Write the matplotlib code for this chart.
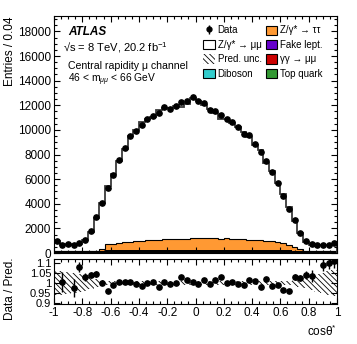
import numpy as np
import matplotlib
matplotlib.use("Agg")
import matplotlib.pyplot as plt
from matplotlib.patches import Patch
from matplotlib.ticker import MultipleLocator, FixedLocator, FixedFormatter

plt.rcParams["font.family"] = ["Liberation Sans", "DejaVu Sans"]
plt.rcParams["mathtext.fontset"] = "custom"
plt.rcParams["mathtext.rm"] = "Liberation Sans"
plt.rcParams["mathtext.it"] = "Liberation Sans:italic"
plt.rcParams["axes.unicode_minus"] = False
plt.rcParams["hatch.linewidth"] = 0.6

# 50 bins of width 0.04 in cos(theta*)
edges = np.round(np.arange(51) * 0.04 - 1.0, 2)
centers = 0.5 * (edges[1:] + edges[:-1])

data = [950, 680, 700, 620, 785, 1050, 1800, 2940, 4100, 5240,
        6370, 7530, 8500, 9530, 9880, 10420, 10850, 11100, 11400, 11850,
        11720, 11930, 12250, 12340, 12660, 12340, 12170, 11640, 11500, 11180,
        10850, 10640, 10230, 9700, 9560, 8890, 8210, 7450, 6560, 5650,
        4620, 3590, 2670, 1650, 970, 700, 680, 680, 680, 830]

zmumu = [760, 487, 510, 446, 537, 829, 1541, 2623, 3750, 4747,
         5674, 6673, 7588, 8563, 8990, 9600, 9820, 9995, 10563, 10691,
         10693, 10776, 10753, 10984, 11357, 11127, 10774, 10468, 10152, 9724,
         9670, 9467, 9111, 8698, 8320, 7735, 7358, 6324, 5706, 4816,
         3978, 3112, 2142, 1310, 731, 508, 510, 455, 448, 579]

ztautau = [50, 50, 50, 50, 50, 50, 50, 50, 190, 420,
           480, 540, 590, 640, 680, 720, 750, 770, 790, 820,
           830, 850, 860, 870, 960, 970, 960, 950, 920, 850,
           900, 840, 870, 840, 800, 770, 740, 700, 660, 600,
           520, 385, 260, 140, 60, 30, 30, 30, 30, 30]

fake = [50, 50, 50, 50, 50, 50, 50, 50, 60, 110,
        110, 110, 110, 110, 110, 110, 110, 110, 110, 110,
        110, 110, 110, 110, 110, 110, 110, 110, 110, 110,
        110, 110, 110, 110, 110, 110, 110, 110, 110, 110,
        110, 90, 70, 60, 50, 50, 50, 50, 50, 50]

gamgam = [20, 20, 20, 20, 20, 20, 20, 20, 30, 90,
          90, 90, 90, 90, 90, 90, 90, 90, 90, 90,
          90, 90, 90, 90, 90, 90, 90, 90, 90, 90,
          90, 90, 90, 90, 90, 90, 90, 90, 90, 90,
          90, 70, 50, 30, 20, 20, 20, 20, 20, 20]

diboson = [30, 30, 30, 30, 30, 30, 30, 30, 30, 40,
           40, 40, 40, 40, 40, 40, 40, 40, 40, 40,
           40, 40, 40, 40, 40, 40, 40, 40, 40, 40,
           40, 40, 40, 40, 40, 40, 40, 40, 40, 40,
           40, 35, 30, 30, 30, 30, 30, 30, 30, 30]

top_quark = [40] * 50

ratio = [np.nan, 1.005, np.nan, 0.975, 1.08, 1.03, 1.04, 1.045, 1.0, 0.962,
         0.99, 1.005, 1.005, 1.005, 0.993, 0.983, 1.0, 1.005, 0.98, 1.005,
         0.993, 1.002, 1.03, 1.017, 1.005, 0.997, 1.013, 0.995, 1.013, 1.03,
         1.0, 1.005, 0.997, 0.988, 1.017, 1.012, 0.98, 1.02, 0.987, 0.992,
         0.967, 0.962, 1.03, 1.025, 1.042, 1.033, np.nan, 1.088, 1.10, 1.108]

ratio_err = [0.06, 0.05, 0.05, 0.045, 0.025, 0.02, 0.015, 0.013, 0.01, 0.009,
             0.009, 0.009, 0.009, 0.009, 0.009, 0.009, 0.009, 0.009, 0.009, 0.009,
             0.009, 0.009, 0.009, 0.009, 0.009, 0.009, 0.009, 0.009, 0.009, 0.009,
             0.009, 0.009, 0.009, 0.009, 0.009, 0.009, 0.009, 0.009, 0.009, 0.009,
             0.009, 0.01, 0.015, 0.015, 0.02, 0.03, 0.03, 0.03, 0.03, 0.035]

pred_unc = [0.06, 0.058, 0.055, 0.05, 0.045, 0.038, 0.03, 0.022, 0.015, 0.01,
            0.01, 0.01, 0.01, 0.01, 0.01, 0.01, 0.01, 0.01, 0.01, 0.01,
            0.01, 0.01, 0.01, 0.01, 0.01, 0.01, 0.01, 0.01, 0.01, 0.01,
            0.01, 0.01, 0.01, 0.01, 0.01, 0.01, 0.01, 0.01, 0.01, 0.01,
            0.01, 0.012, 0.015, 0.02, 0.025, 0.035, 0.045, 0.052, 0.06, 0.065]

c_ztt = "#ff9933"
c_fake = "#6600cc"
c_gg = "#cc0000"
c_dib = "#33cccc"
c_top = "#339933"

fig = plt.figure(figsize=(3.57, 3.44), dpi=100)
ax = fig.add_axes([54 / 357, 1 - 253 / 344, 283 / 357, 237 / 344])
rax = fig.add_axes([54 / 357, 1 - 304 / 344, 283 / 357, 45 / 344])

# stacked prediction
layers = [(top_quark, c_top), (diboson, c_dib), (gamgam, c_gg),
          (fake, c_fake), (ztautau, c_ztt)]
cum = np.zeros(50)
for vals, col in layers:
    top = cum + np.array(vals)
    ax.stairs(top, edges, baseline=cum, fill=True, facecolor=col,
              edgecolor="none")
    ax.stairs(top, edges, color="black", lw=0.8)
    cum = top
total = cum + np.array(zmumu)
ax.stairs(total, edges, color="#3a3a3a", lw=1.3)

ax.errorbar(centers, data, yerr=np.sqrt(data), fmt="o", color="black",
            ms=3.8, elinewidth=1, capsize=0)

ax.set_xlim(-1, 1)
ax.set_ylim(0, 19250)
ax.yaxis.set_major_locator(MultipleLocator(2000))
ax.yaxis.set_minor_locator(MultipleLocator(500))
ax.xaxis.set_major_locator(MultipleLocator(0.2))
ax.xaxis.set_minor_locator(MultipleLocator(0.05))
ax.tick_params(axis="x", labelbottom=False)
ax.set_ylabel("Entries / 0.04", fontsize=8.5, loc="top")
ax.yaxis.set_label_coords(-0.133, 1.0)

for a in (ax, rax):
    a.tick_params(which="both", direction="in", top=True, right=True,
                  labelsize=8.5, pad=2)
    a.tick_params(which="major", length=4.5, width=0.8)
    a.tick_params(which="minor", length=2.3, width=0.8)
rax.tick_params(axis="y", labelsize=8)

ax.text(0.05, 0.932, "ATLAS", transform=ax.transAxes, fontsize=8.5,
        fontweight="bold", fontstyle="italic", va="center")
ax.text(0.033, 0.868, "√s = 8 TeV, 20.2 fb$^{-1}$", transform=ax.transAxes,
        fontsize=8, va="center")
ax.text(0.05, 0.789, "Central rapidity μ channel", transform=ax.transAxes,
        fontsize=7.6, va="center")
ax.text(0.05, 0.73, "46 < m$_{\\mu\\mu}$ < 66 GeV", transform=ax.transAxes,
        fontsize=7.4, va="center")

data_handle = ax.errorbar([], [], yerr=[], fmt="o", color="black", ms=3.5,
                          elinewidth=1, capsize=0)
handles = [
    data_handle,
    Patch(facecolor="white", edgecolor="black", lw=0.8),
    Patch(facecolor="white", edgecolor="black", hatch="\\\\\\\\\\\\", lw=0),
    Patch(facecolor=c_dib, edgecolor="black", lw=0.8),
    Patch(facecolor=c_ztt, edgecolor="black", lw=0.8),
    Patch(facecolor=c_fake, edgecolor="black", lw=0.8),
    Patch(facecolor=c_gg, edgecolor="black", lw=0.8),
    Patch(facecolor=c_top, edgecolor="black", lw=0.8),
]
labels = ["Data", "Z/γ* → μμ", "Pred. unc.", "Diboson",
          "Z/γ* → ττ", "Fake lept.", "γγ → μμ", "Top quark"]
ax.legend(handles, labels, ncol=2, loc="upper left",
          bbox_to_anchor=(0.527, 0.96), frameon=False, fontsize=7,
          handlelength=1.2, handleheight=1.1, handletextpad=0.3,
          labelspacing=0.45, columnspacing=0.4, borderpad=0,
          borderaxespad=0)

# ratio panel
unc = np.array(pred_unc)
rax.stairs(1 + unc, edges, baseline=1 - unc, fill=True, facecolor="none",
           edgecolor="black", hatch="\\\\\\\\\\\\", lw=0)
rax.errorbar(centers, ratio, yerr=ratio_err, fmt="o", color="black",
             ms=3.8, elinewidth=1, capsize=0)
rax.set_xlim(-1, 1)
rax.set_ylim(0.895, 1.12)
rax.yaxis.set_major_locator(FixedLocator([0.9, 0.95, 1.0, 1.05, 1.1]))
rax.yaxis.set_major_formatter(FixedFormatter(["0.9", "0.95", "1", "1.05", "1.1"]))
rax.xaxis.set_major_locator(MultipleLocator(0.2))
rax.xaxis.set_minor_locator(MultipleLocator(0.05))
rax.xaxis.set_major_formatter(plt.FuncFormatter(lambda v, p: f"{v:g}" if abs(v) > 1e-9 else "0"))
rax.set_ylabel("Data / Pred.", fontsize=8.5)
rax.yaxis.set_label_coords(-0.133, 0.35)
rax.set_xlabel("cosθ$^{*}$", fontsize=8.5, loc="right")
rax.xaxis.set_label_coords(1.0, -0.45)

fig.savefig("out.png", dpi=100)
